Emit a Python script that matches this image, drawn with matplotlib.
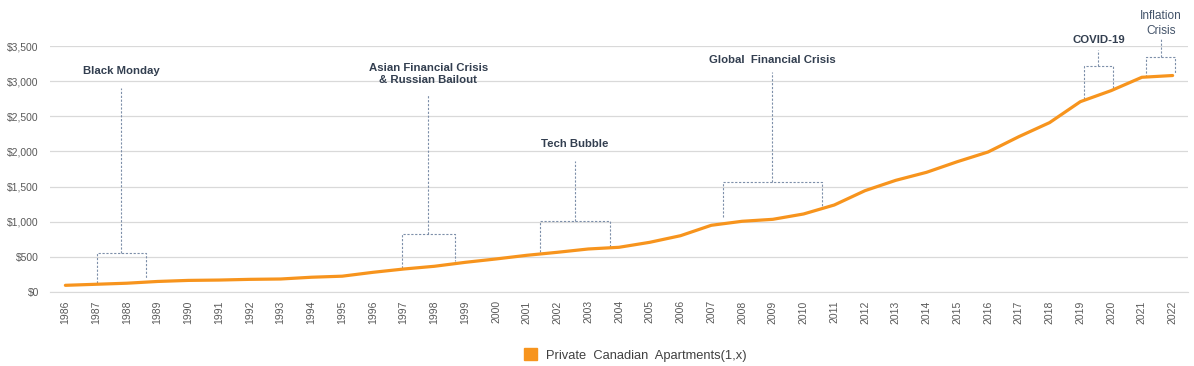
import matplotlib.pyplot as plt
import numpy as np

plt.rcParams["font.family"] = ["Liberation Sans", "DejaVu Sans"]

years = [str(y) for y in range(1986, 2023)]
values = [95, 110, 125, 150, 165, 170, 180, 185, 210, 225,
          280, 327, 366, 422, 470, 522, 565, 612, 636, 707,
          801, 949, 1006, 1034, 1110, 1238, 1442, 1589, 1703, 1854,
          1992, 2210, 2410, 2708, 2865, 3055, 3080]

# events: label, bracket left/right (category index), bracket top, leg bottoms, stem top
event_labels = ["Black Monday", "Asian Financial Crisis\n& Russian Bailout", "Tech Bubble",
                "Global  Financial Crisis", "COVID-19", "Inflation\nCrisis"]
event_left = [1.02, 10.94, 15.43, 21.38, 33.12, 35.13]
event_right = [2.61, 12.67, 17.70, 24.60, 34.06, 36.09]
event_top = [550, 820, 1005, 1560, 3210, 3350]
event_left_bottom = [130, 345, 570, 1065, 2745, 3060]
event_right_bottom = [205, 440, 640, 1185, 2870, 3120]
event_stem_top = [2900, 2800, 1870, 3125, 3450, 3600]
event_text_y = [3150, 3100, 2100, 3300, 3590, 3820]

line_color = "#F7941D"
dash_color = "#7D8FA9"
text_color = "#333F50"

fig = plt.figure(figsize=(11.94, 3.66), dpi=100)
ax = fig.add_axes([50 / 1194, 1 - 292 / 366, 1138 / 1194, 246 / 366])

x = np.arange(len(years))
ax.plot(x, values, color=line_color, lw=2.3, solid_capstyle="round",
        label="Private Canadian Apartments(1,x)", zorder=3)

for i, lab in enumerate(event_labels):
    l, r, t = event_left[i], event_right[i], event_top[i]
    c = (l + r) / 2
    kw = dict(color=dash_color, lw=0.8, ls=(0, (2, 1.5)), clip_on=False, zorder=2)
    ax.plot([l, l, r, r], [event_left_bottom[i], t, t, event_right_bottom[i]], **kw)
    ax.plot([c, c], [t, event_stem_top[i]], **kw)
    weight = "normal" if lab.startswith("Inflation") else "bold"
    col = "#44546A" if weight == "normal" else text_color
    size = 8.6 if weight == "normal" else 8.2
    ax.text(c, event_text_y[i], lab, ha="center", va="center", fontsize=size,
            fontweight=weight, color=col, linespacing=1.3, clip_on=False)

ax.set_xlim(-0.5, len(years) - 0.5)
ax.set_ylim(0, 3500)
ax.set_yticks(np.arange(0, 3501, 500))
ax.set_yticklabels([f"${v:,}" for v in range(0, 3501, 500)])
ax.set_xticks(x)
ax.set_xticklabels(years, rotation=90)
ax.tick_params(axis="both", length=0, labelsize=7.5, labelcolor="#595959")
ax.tick_params(axis="x", pad=6)
ax.tick_params(axis="y", pad=8)
ax.grid(axis="y", color="#D9D9D9", lw=0.9)
ax.set_axisbelow(True)
for s in ["top", "right", "left"]:
    ax.spines[s].set_visible(False)
ax.spines["bottom"].set_color("#D9D9D9")

handle = plt.Rectangle((0, 0), 1, 1, color=line_color)
fig.legend([handle], ["Private  Canadian  Apartments(1,x)"], loc="center",
           bbox_to_anchor=(0.532, 1 - 355 / 366), frameon=False, fontsize=9.3,
           labelcolor="#404040", handlelength=1.0, handleheight=1.0,
           handletextpad=0.7)

fig.savefig("out.png", dpi=100)
